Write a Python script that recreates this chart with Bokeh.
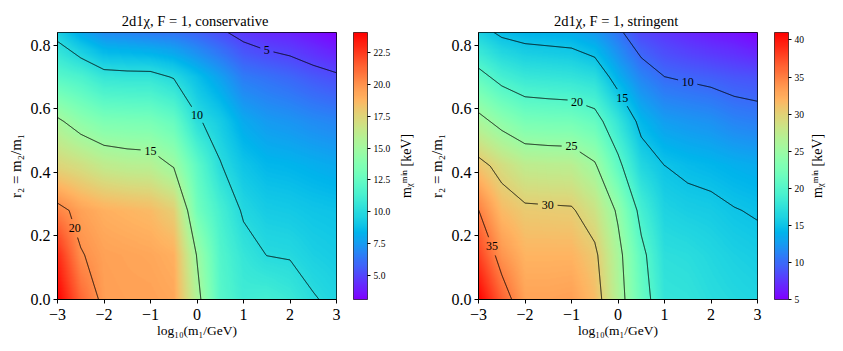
import math
import numpy as np
import contourpy
from bokeh.plotting import figure
from bokeh.layouts import row
from bokeh.models import LinearColorMapper, FixedTicker, PrintfTickFormatter
from bokeh.core.properties import value
from bokeh.embed import file_html
from bokeh.resources import INLINE

# ---------------- data ----------------
LOG_M1 = [-3.0, -2.5, -2.0, -1.5, -1.0, -0.5, 0.0, 0.5, 1.0, 1.5, 2.0, 2.5, 3.0]
R2 = [0.0, 0.14, 0.28, 0.42, 0.56, 0.70, 0.84]

# m_chi^min [keV], rows = R2, columns = LOG_M1
CONSERVATIVE = [
    [24.1, 21.3, 19.6, 19.5, 19.5, 19.3, 15.6, 12.0, 11.0, 11.2, 10.8, 10.1, 9.7],
    [23.0, 20.1, 19.5, 19.4, 19.3, 19.0, 14.9, 11.8, 10.6, 9.98, 9.9, 9.5, 9.3],
    [20.5, 19.5, 19.0, 18.8, 18.6, 17.8, 13.1, 11.3, 9.8, 9.3, 9.2, 9.0, 8.9],
    [17.5, 17.0, 16.3, 16.0, 15.9, 14.9, 12.3, 10.1, 9.0, 8.5, 8.4, 8.2, 8.0],
    [15.3, 14.2, 13.5, 13.4, 13.3, 12.6, 10.2, 9.3, 8.0, 7.5, 7.3, 7.0, 6.8],
    [12.0, 11.5, 10.6, 10.5, 10.5, 9.9, 8.8, 7.7, 6.5, 6.2, 5.9, 5.5, 5.2],
    [9.5, 8.0, 7.0, 6.8, 6.5, 6.3, 5.8, 5.2, 4.6, 4.2, 4.0, 3.6, 3.1],
]
STRINGENT = [
    [41.0, 36.5, 33.0, 33.0, 33.2, 31.5, 26.5, 21.5, 17.8, 17.6, 17.0, 16.6, 16.3],
    [38.0, 33.8, 32.0, 32.0, 32.0, 30.6, 26.0, 20.8, 17.2, 17.0, 16.5, 16.0, 15.7],
    [35.05, 31.6, 30.5, 30.4, 30.3, 28.5, 24.5, 19.0, 16.2, 15.8, 15.6, 15.1, 14.8],
    [31.0, 29.0, 27.5, 27.3, 27.2, 25.4, 20.8, 16.5, 15.02, 14.5, 14.2, 13.8, 13.5],
    [26.0, 24.0, 22.5, 22.3, 22.2, 21.2, 17.8, 14.2, 12.7, 12.3, 12.0, 11.3, 11.0],
    [21.0, 19.0, 18.0, 17.8, 17.6, 17.0, 13.8, 11.3, 10.02, 9.7, 9.4, 9.0, 8.8],
    [16.0, 14.5, 14.0, 13.8, 13.6, 12.5, 10.5, 8.3, 7.5, 6.8, 6.2, 5.8, 5.0],
]
CONS_LEVELS = [5, 10, 15, 20]
STRI_LEVELS = [10, 15, 20, 25, 30, 35]
CONS_CBAR_TICKS = [5.0, 7.5, 10.0, 12.5, 15.0, 17.5, 20.0, 22.5]
STRI_CBAR_TICKS = [5, 10, 15, 20, 25, 30, 35, 40]
X_TICKS = [-3, -2, -1, 0, 1, 2, 3]
Y_TICKS = [0.0, 0.2, 0.4, 0.6, 0.8]
CBAR_LABEL = "m\u1d6a\u1d50\u2071\u207f [keV]"

# label placement (x position along each contour)
CONS_LABEL_X = {5: 1.5, 10: 0.0, 15: -1.0, 20: -2.63}
STRI_LABEL_X = {10: 1.5, 15: 0.09, 20: -0.88, 25: -1.0, 30: -1.51, 35: -2.71}

# ---------------- style ----------------
FONT = "Liberation Serif"
FW, FH = 279, 267
TOP, BOTTOM = 32, 48
SX = FW / 6.0
SY = FH / 0.84
CL_FS = 12


def rainbow(n=256):
    t = np.linspace(0, 1, n)
    r = np.clip(np.abs(2 * t - 0.5), 0, 1)
    g = np.clip(np.sin(np.pi * t), 0, 1)
    b = np.clip(np.cos(np.pi * t / 2), 0, 1)
    return ["#%02x%02x%02x" % (int(round(a * 255)), int(round(c * 255)), int(round(d * 255)))
            for a, c, d in zip(r, g, b)]


PAL = rainbow()


def smooth_image(z, nx=420, ny=260):
    # display-only bilinear shading of the grid (like gouraud shading)
    xs = -3 + (np.arange(nx) + 0.5) * 6.0 / nx
    ys = (np.arange(ny) + 0.5) * 0.84 / ny
    zz = np.asarray(z, dtype=float)
    tmp = np.array([np.interp(xs, LOG_M1, r) for r in zz])
    return np.array([np.interp(ys, R2, tmp[:, j]) for j in range(nx)]).T


def point_at_x(path, x0):
    for i in range(len(path) - 1):
        xa, ya = path[i]
        xb, yb = path[i + 1]
        if (xa - x0) * (xb - x0) <= 0 and xa != xb:
            t = (x0 - xa) / (xb - xa)
            return xa + t * (xb - xa), ya + t * (yb - ya)
    return None


def cut_path(path, cx, cy, r):
    pts = [path[0]]
    for i in range(len(path) - 1):
        a, b = path[i], path[i + 1]
        L = np.hypot((b[0] - a[0]) * SX, (b[1] - a[1]) * SY)
        n = max(1, int(np.ceil(L / 0.5)))
        for k in range(1, n + 1):
            pts.append(a + (b - a) * k / n)
    pts = np.array(pts)
    d = np.hypot((pts[:, 0] - cx) * SX, (pts[:, 1] - cy) * SY)
    keep = d > r
    pieces, cur = [], []
    for p_, k in zip(pts, keep):
        if k:
            cur.append(p_)
        else:
            if len(cur) > 1:
                pieces.append(np.array(cur))
            cur = []
    if len(cur) > 1:
        pieces.append(np.array(cur))
    return pieces


def heat_panel(z, levels, label_x, title):
    zz = np.asarray(z, dtype=float)
    lo, hi = float(zz.min()), float(zz.max())
    mapper = LinearColorMapper(palette=PAL, low=lo, high=hi)
    p = figure(frame_width=FW, frame_height=FH, x_range=(-3, 3), y_range=(0, 0.84),
               output_backend="svg", toolbar_location=None,
               min_border_left=57, min_border_right=12, min_border_top=TOP, min_border_bottom=BOTTOM,
               title=title)
    p.image(image=[smooth_image(zz)], x=-3, y=0, dw=6, dh=0.84, color_mapper=mapper)

    gen = contourpy.contour_generator(x=np.array(LOG_M1), y=np.array(R2), z=zz, line_type="Separate")
    xs_all, ys_all = [], []
    lx, ly, lt = [], [], []
    for lev in levels:
        txt = str(lev)
        r = len(txt) * CL_FS * 0.25 + 3.5
        for path in gen.lines(lev):
            path = np.asarray(path)
            pt = point_at_x(path, label_x[lev]) if lev in label_x else None
            if pt is not None:
                lx.append(pt[0]); ly.append(pt[1]); lt.append(txt)
                for piece in cut_path(path, pt[0], pt[1], r):
                    xs_all.append(list(piece[:, 0])); ys_all.append(list(piece[:, 1]))
            else:
                xs_all.append(list(path[:, 0])); ys_all.append(list(path[:, 1]))
    p.multi_line(xs=xs_all, ys=ys_all, line_color="black", line_width=0.9)
    p.text(x=lx, y=ly, text=lt, text_align="center", text_baseline="middle",
           text_font=value(FONT), text_font_size="%dpx" % CL_FS, text_color="black")

    p.grid.visible = False
    p.outline_line_color = "black"
    p.outline_line_width = 1
    p.title.text_font = FONT
    p.title.text_font_size = "14.5px"
    p.title.text_font_style = "normal"
    p.title.text_color = "black"
    p.title.align = "center"
    p.title.standoff = 8
    p.xaxis.ticker = FixedTicker(ticks=X_TICKS)
    p.xaxis.major_label_overrides = {t: ("\u2212%d" % -t if t < 0 else "%d" % t) for t in X_TICKS}
    p.yaxis.ticker = FixedTicker(ticks=Y_TICKS)
    p.yaxis.major_label_overrides = {t: "%.1f" % t for t in Y_TICKS}
    p.xaxis.axis_label = "log\u2081\u2080(m\u2081/GeV)"
    p.yaxis.axis_label = "r\u2082 = m\u2082/m\u2081"
    for ax in (p.xaxis[0], p.yaxis[0]):
        ax.axis_line_color = "black"
        ax.major_tick_line_color = "black"
        ax.minor_tick_line_color = None
        ax.major_tick_out = 4
        ax.major_tick_in = 0
        ax.major_label_text_font = FONT
        ax.major_label_text_font_size = "16px"
        ax.major_label_text_color = "black"
        ax.axis_label_text_font = FONT
        ax.axis_label_text_font_style = "normal"
        ax.axis_label_text_color = "black"
    p.xaxis.major_label_standoff = 5
    p.yaxis.major_label_standoff = 3
    p.xaxis.axis_label_standoff = 0
    p.yaxis.axis_label_standoff = 4
    p.xaxis.axis_label_text_font_size = "13.5px"
    p.yaxis.axis_label_text_font_size = "15px"
    return p, mapper, lo, hi


def cbar_panel(mapper, lo, hi, ticks, fmt, right_border):
    c = figure(frame_width=14, frame_height=FH, x_range=(0, 1), y_range=(lo, hi),
               output_backend="svg", toolbar_location=None,
               x_axis_location=None, y_axis_location="right",
               min_border_left=5, min_border_right=right_border, min_border_top=TOP, min_border_bottom=BOTTOM)
    grad = np.linspace(lo, hi, 512).reshape(512, 1)
    c.image(image=[grad], x=0, y=lo, dw=1, dh=hi - lo, color_mapper=mapper)
    c.grid.visible = False
    c.outline_line_color = "black"
    c.outline_line_width = 0.8
    ax = c.yaxis[0]
    ax.ticker = FixedTicker(ticks=ticks)
    ax.formatter = PrintfTickFormatter(format=fmt)
    ax.axis_line_color = None
    ax.major_tick_line_color = "black"
    ax.minor_tick_line_color = None
    ax.major_tick_out = 3
    ax.major_tick_in = 0
    ax.major_label_standoff = 3
    ax.major_label_text_font = FONT
    ax.major_label_text_font_size = "9.5px"
    ax.major_label_text_color = "black"
    return c


def cbar_title(width, xc):
    t = figure(frame_width=width, frame_height=FH, x_range=(0, width), y_range=(0, 1),
               output_backend="svg", toolbar_location=None,
               x_axis_location=None, y_axis_location=None,
               min_border_left=0, min_border_right=0, min_border_top=TOP, min_border_bottom=BOTTOM)
    t.outline_line_color = None
    t.grid.visible = False
    t.text(x=[xc], y=[0.5], text=[CBAR_LABEL], angle=math.pi / 2, text_align="center",
           text_baseline="middle", text_font=value(FONT), text_font_size="14px", text_color="black")
    return t


p1, m1, lo1, hi1 = heat_panel(CONSERVATIVE, CONS_LEVELS, CONS_LABEL_X, "2d1\u03c7,  F = 1, conservative")
c1 = cbar_panel(m1, lo1, hi1, CONS_CBAR_TICKS, "%.1f", 25)
t1 = cbar_title(28, 13)
p2, m2, lo2, hi2 = heat_panel(STRINGENT, STRI_LEVELS, STRI_LABEL_X, "2d1\u03c7,  F = 1, stringent")
c2 = cbar_panel(m2, lo2, hi2, STRI_CBAR_TICKS, "%d", 18)
t2 = cbar_title(34, 10)

layout = row(p1, c1, t1, p2, c2, t2)
open("out.html", "w").write(file_html(layout, INLINE))
